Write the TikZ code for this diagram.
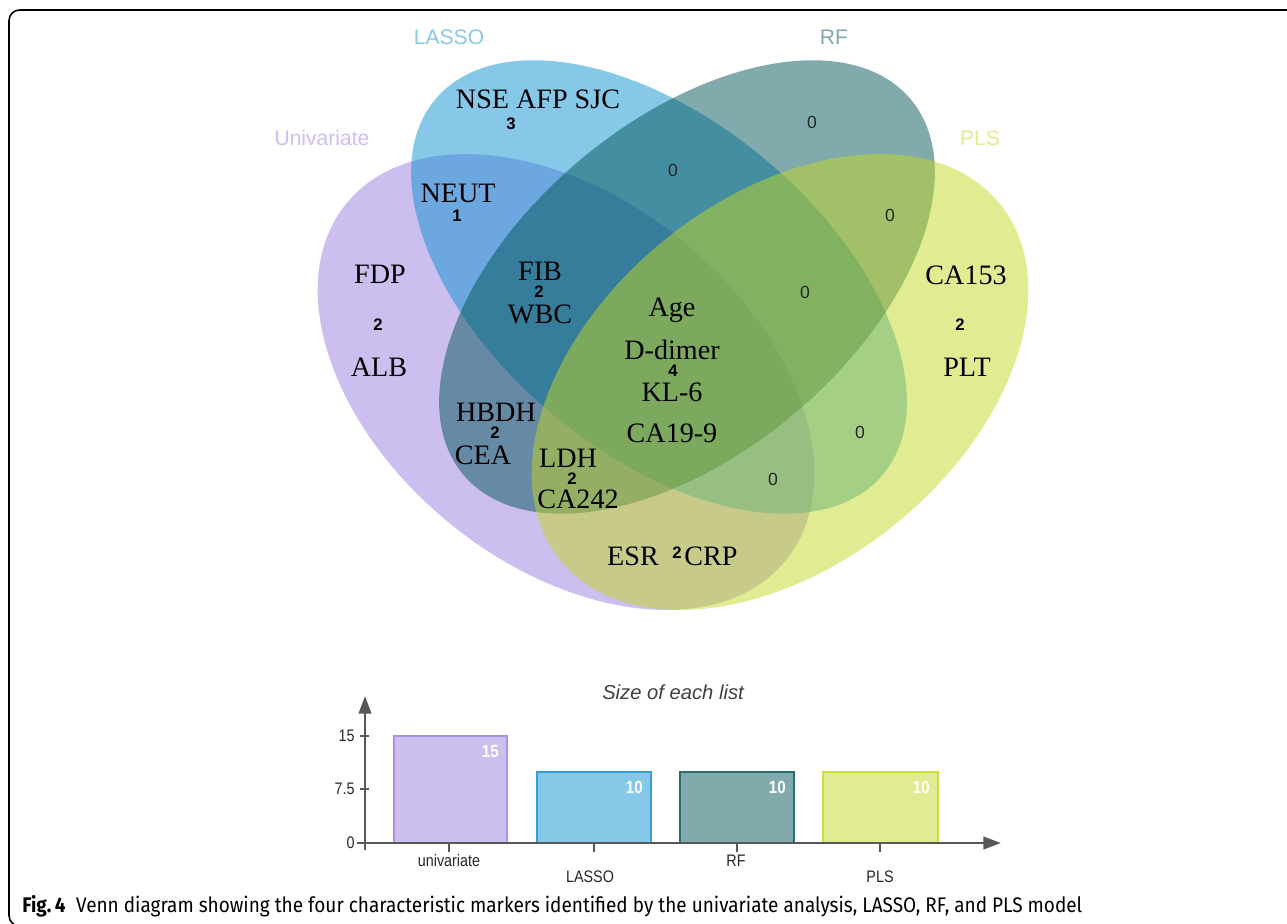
\documentclass[tikz,border=0pt]{standalone}
\usepackage{fontspec}
\setmainfont{Liberation Serif}
\setsansfont{Liberation Sans}
\newfontfamily\narrowsans[FakeStretch=0.86]{Liberation Sans}
\newfontfamily\capfont[FakeStretch=0.9]{Fira Sans}
\usetikzlibrary{arrows.meta, positioning}
\definecolor{colUni}{RGB}{155,125,225}
\definecolor{colLasso}{RGB}{15,145,209}
\definecolor{colRF}{RGB}{1,85,89}
\definecolor{colPLS}{RGB}{195,215,35}
\definecolor{colAxis}{RGB}{88,88,88}

\begin{document}
\begin{tikzpicture}[
  x=0.02cm, y=-0.02cm,
  setfill/.style={fill opacity=0.5},
  marker/.style={font=\fontsize{16}{18}\selectfont, inner sep=0pt},
  cnt/.style={font=\sffamily\bfseries\fontsize{9.5}{10}\selectfont, inner sep=0pt},
  nzero/.style={font=\sffamily\fontsize{10}{11}\selectfont, inner sep=0pt, text=black!85},
  setlabel/.style={font=\sffamily\fontsize{12}{14}\selectfont, inner sep=0pt},
  axis/.style={colAxis, line width=1.6pt},
  tickl/.style={font=\narrowsans\fontsize{9.5}{11}\selectfont, inner sep=0pt, text=black!85},
  barval/.style={font=\narrowsans\bfseries\fontsize{10}{11}\selectfont, inner sep=0pt, text=white},
]
\useasboundingbox (0,0) rectangle (1287,923);

% frame
\draw[line width=0.9pt, rounded corners=6pt] (1295,10) -- (9,10) -- (9,926) -- (40,926);

% the four sets
\fill[colUni, setfill, rotate around={-39:(566,382)}] (566,382) ellipse [x radius=283, y radius=183];
\fill[colLasso, setfill, rotate around={-40:(659,287)}] (659,287) ellipse [x radius=292, y radius=166];
\fill[colRF, setfill, rotate around={40:(687,287)}] (687,287) ellipse [x radius=292, y radius=166];
\fill[colPLS, setfill, rotate around={39:(780,382)}] (780,382) ellipse [x radius=283, y radius=183];

\node[setlabel, text=colLasso!50] (labLasso) at (449,37) {LASSO};
\node[setlabel, text=colRF!50] (labRF) at (834,37) {RF};
\node[setlabel, text=colUni!50] (labUni) at (322,138) {Univariate};
\node[setlabel, text=colPLS!50] (labPLS) at (980,138) {PLS};

% region contents
\node[marker] (lassoOnly) at (538,99) {NSE AFP SJC};
\node[cnt] (nLasso) at (511,124) {3};
\node[nzero] (nRF) at (812,122) {0};
\node[nzero] (nLassoRF) at (673,170) {0};
\node[marker] (uniLasso) at (458,193) {NEUT};
\node[cnt] (nUniLasso) at (457,216) {1};
\node[nzero] (nRFPLS) at (890,215) {0};
\node[marker] (uniA) at (380,274) {FDP};
\node[cnt] (nUni) at (378,325) {2};
\node[marker] (uniB) at (379,367) {ALB};
\node[marker] (tripA) at (540,271) {FIB};
\node[cnt] (nTrip) at (539,292) {2};
\node[marker] (tripB) at (540,314) {WBC};
\node[marker] (allA) at (672,310) {Age};
\node[marker] (allB) at (672,350) {D-dimer};
\node[cnt] (nAll) at (673,371) {4};
\node[marker] (allC) at (672,392) {KL-6};
\node[marker] (allD) at (672,433) {CA19-9};
\node[nzero] (nLRP) at (805,292) {0};
\node[marker] (plsA) at (966,275) {CA153};
\node[cnt] (nPLS) at (960,325) {2};
\node[marker] (plsB) at (967,367) {PLT};
\node[marker] (uniRFA) at (496,412) {HBDH};
\node[cnt] (nUniRF) at (495,433) {2};
\node[marker] (uniRFB) at (483,455) {CEA};
\node[marker] (urpA) at (568,458) {LDH};
\node[cnt] (nURP) at (572,479) {2};
\node[marker] (urpB) at (578,499) {CA242};
\node[nzero] (nLassoPLS) at (860,432) {0};
\node[nzero] (nULP) at (773,479) {0};
\node[marker] (upA) at (633,556) {ESR};
\node[cnt] (nUniPLS) at (677,553) {2};
\node[marker] (upB) at (711,556) {CRP};

% bar chart
\node[font=\sffamily\itshape\fontsize{11.5}{13}\selectfont, text=black!75] (chartTitle) at (673,692) {Size of each list};
\coordinate (yaxB) at (365,850);
\coordinate (yaxT) at (365,696);
\coordinate (xaxL) at (357,843);
\coordinate (xaxR) at (1001,843);

\foreach \nm/\xl/\xr/\top/\col/\val in {uni/394/507/736/colUni/15, lasso/537/651/772/colLasso/10,
    rf/680/794/772/colRF/10, pls/823/938/772/colPLS/10}{
  \fill[\col!50] (\xl,\top) rectangle (\xr,843);
  \draw[\col!85, line width=0.8pt] (\xl,843) |- (\xr,\top) -- (\xr,843);
  \node[barval, anchor=north east] (val\nm) at (\xr-8,\top+9) {\val};
}

\draw[axis, -{Triangle[length=10pt, width=7pt]}] (yaxB) -- (yaxT);
\draw[axis, -{Triangle[length=10pt, width=7pt]}] (xaxL) -- (xaxR);

\foreach \y/\t in {736/15, 789/7.5, 843/0}{
  \draw[colAxis, line width=0.8pt] (360,\y) -- (369,\y);
  \node[tickl, anchor=east] (tick\y) at (355,\y) {\t};
}
\foreach \x in {449,594,737,880}
  \draw[colAxis, line width=0.8pt] (\x,843) -- (\x,852);

\node[tickl] (catUni) at (449,861) {univariate};
\node[tickl] (catLasso) at (590,877) {LASSO};
\node[tickl] (catRF) at (736,861) {RF};
\node[tickl] (catPLS) at (880,877) {PLS};

% caption
\node[font=\capfont\fontsize{12}{14}\selectfont, anchor=base west, inner sep=0pt] (caption) at (22,912)
  {\textbf{Fig.\,4}\enspace Venn diagram showing the four characteristic markers identified by the univariate analysis, LASSO, RF, and PLS model};
\end{tikzpicture}
\end{document}
